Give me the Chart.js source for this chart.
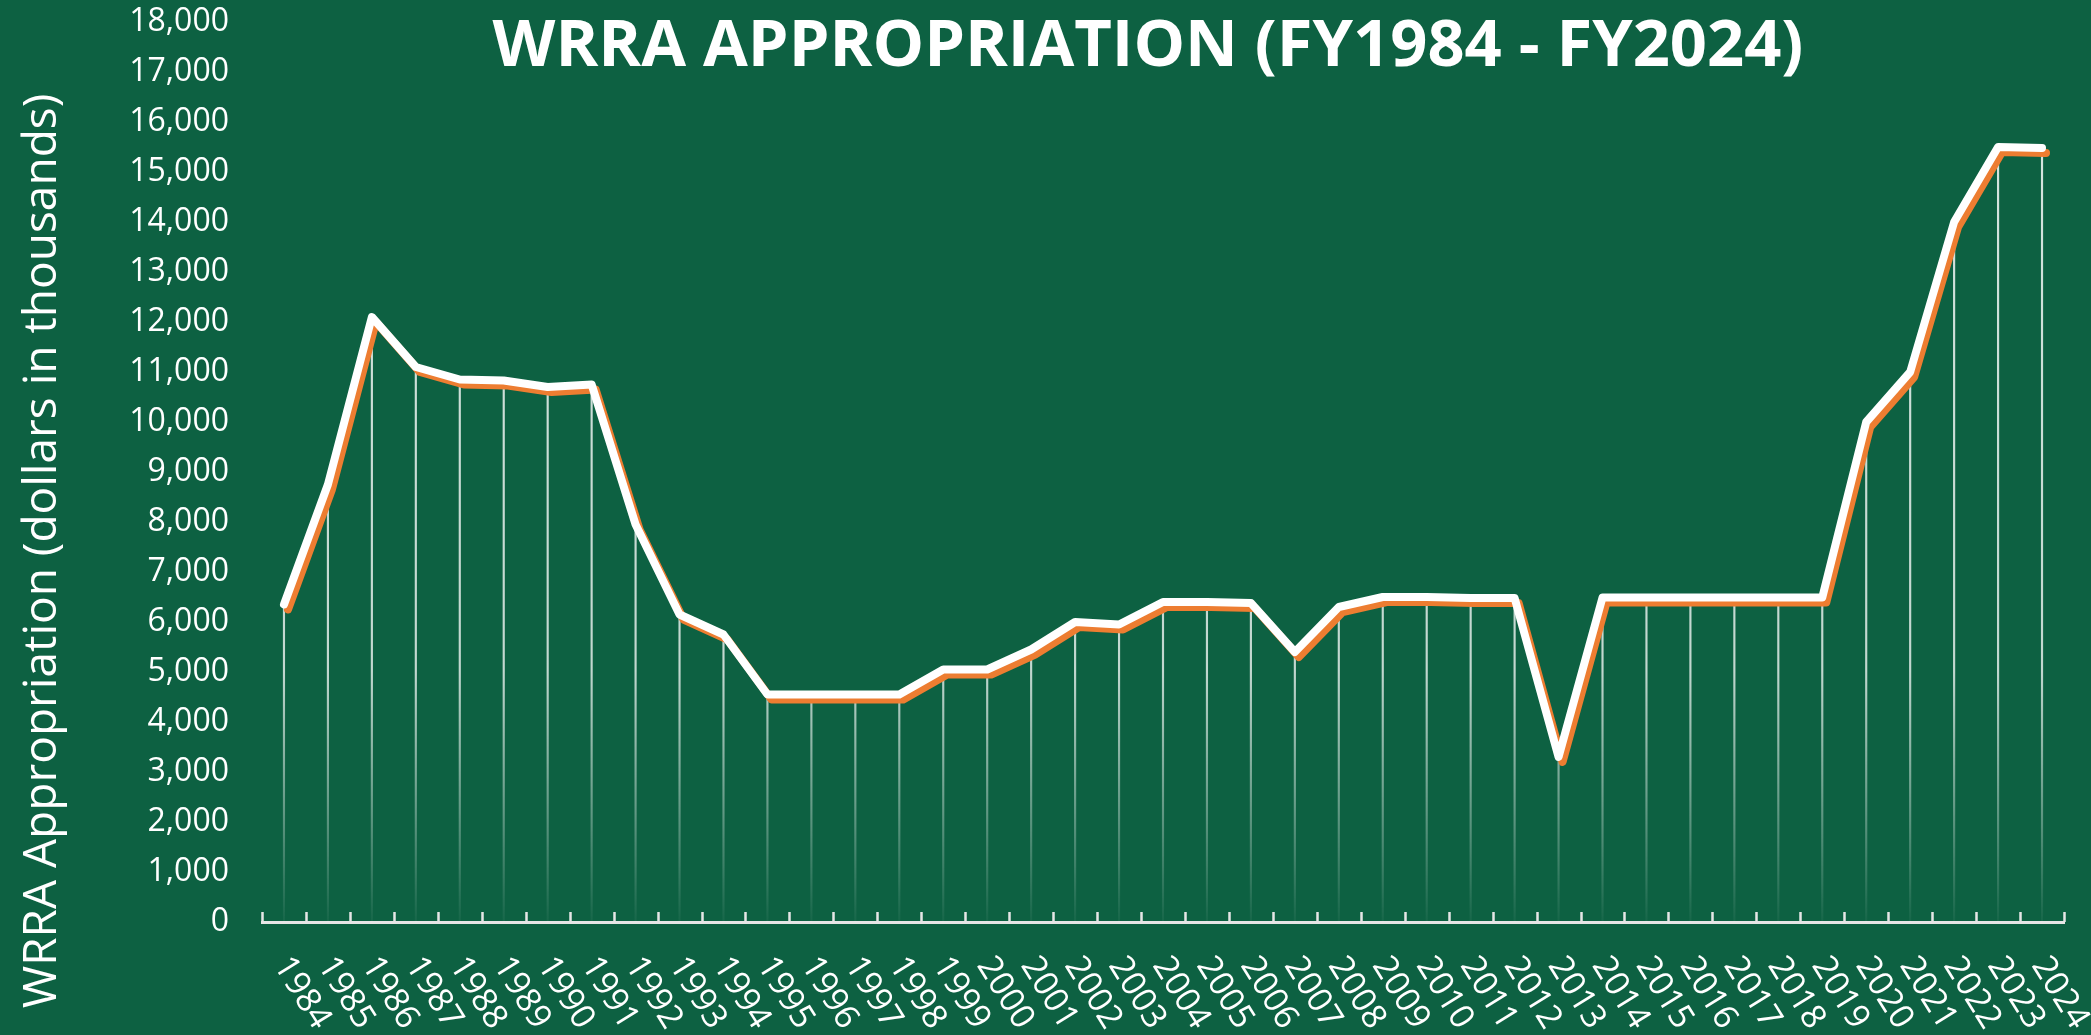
<!DOCTYPE html>
<html>
<head>
<meta charset="utf-8">
<title>WRRA Appropriation</title>
<script src="https://cdn.jsdelivr.net/npm/chart.js@4.4.1/dist/chart.umd.min.js"></script>
<style>
  html, body { margin: 0; padding: 0; background: #0d6142; }
  #wrap { width: 2091px; height: 1035px; }
</style>
</head>
<body>
<div id="wrap"><canvas id="wrraChart" width="2091" height="1035"></canvas></div>
<script>
// fiscal years on the x axis
const years = [
  '1984', '1985', '1986', '1987', '1988', '1989', '1990', '1991', '1992', '1993',
  '1994', '1995', '1996', '1997', '1998', '1999', '2000', '2001', '2002', '2003',
  '2004', '2005', '2006', '2007', '2008', '2009', '2010', '2011', '2012', '2013',
  '2014', '2015', '2016', '2017', '2018', '2019', '2020', '2021', '2022', '2023', '2024'
];

// appropriation, dollars in thousands
const appropriation = [
  6350, 8750, 12100, 11100, 10850, 10830, 10700, 10750, 7950, 6150,
  5750, 4550, 4550, 4550, 4550, 5050, 5050, 5450, 6000, 5950,
  6400, 6400, 6380, 5400, 6300, 6500, 6500, 6480, 6480, 3300,
  6490, 6490, 6490, 6490, 6490, 6490, 10000, 11000, 14000, 15500, 15480
];

const yMin = 0;
const yMax = 18000;
const yStep = 1000;

const chartTitle = 'WRRA APPROPRIATION (FY1984 - FY2024)';
const yAxisTitle = 'WRRA Appropriation (dollars in thousands)';

const textColor = '#ffffff';
const shadowOrange = '#ed7d31';

// orange offset shadow under the white line, tick marks, rotated year labels, titles
const decorations = {
  id: 'decorations',
  beforeDatasetDraw(chart, args) {
    if (args.meta.type !== 'line') return;
    const ctx = chart.ctx;
    ctx.save();
    ctx.shadowColor = shadowOrange;
    ctx.shadowOffsetX = 4;
    ctx.shadowOffsetY = 5;
    ctx.shadowBlur = 0;
  },
  afterDatasetDraw(chart, args) {
    if (args.meta.type !== 'line') return;
    chart.ctx.restore();
  },
  afterDraw(chart) {
    const ctx = chart.ctx;
    const x = chart.scales.x;
    const area = chart.chartArea;
    const n = years.length;
    const step = (x.right - x.left) / n;

    ctx.save();
    // tick marks between the categories, pointing up
    ctx.strokeStyle = '#e6e6e6';
    ctx.lineWidth = 2.5;
    ctx.beginPath();
    for (let i = 0; i <= n; i++) {
      const px = Math.round(x.left + i * step) + 0.5;
      ctx.moveTo(px, area.bottom);
      ctx.lineTo(px, area.bottom - 10);
    }
    ctx.stroke();

    // year labels, turned clockwise
    ctx.fillStyle = textColor;
    ctx.font = '34px "Open Sans"';
    ctx.textAlign = 'left';
    ctx.textBaseline = 'alphabetic';
    years.forEach((yr, i) => {
      const px = x.getPixelForValue(i);
      ctx.save();
      ctx.translate(px - 11, area.bottom + 43);
      ctx.rotate(58 * Math.PI / 180);
      ctx.fillText(yr, 0, 0);
      ctx.restore();
    });

    // chart title
    ctx.font = 'bold 65px "Open Sans"';
    ctx.textAlign = 'center';
    ctx.fillText(chartTitle, 1148, 66);

    // y axis title
    ctx.save();
    ctx.translate(56, 551);
    ctx.rotate(-Math.PI / 2);
    ctx.font = '46px "Open Sans"';
    ctx.textAlign = 'center';
    ctx.fillText(yAxisTitle, 0, 0);
    ctx.restore();

    ctx.restore();
  }
};

const data = {
  labels: years,
  datasets: [{
    type: 'line',
    label: 'WRRA Appropriation',
    data: appropriation,
    borderColor: '#ffffff',
    borderWidth: 8,
    borderCapStyle: 'round',
    borderJoinStyle: 'round',
    pointRadius: 0,
    tension: 0,
    order: 0
  }, {
    type: 'bar',
    label: 'drop lines',
    data: appropriation,
    barThickness: 1.5,
    backgroundColor: function (context) {
      const { ctx, chartArea } = context.chart;
      if (!chartArea) return 'rgba(255, 255, 255, 0.8)';
      const g = ctx.createLinearGradient(0, chartArea.top, 0, chartArea.bottom);
      g.addColorStop(0, 'rgba(255, 255, 255, 0.85)');
      g.addColorStop(0.72, 'rgba(255, 255, 255, 0.75)');
      g.addColorStop(1, 'rgba(255, 255, 255, 0.04)');
      return g;
    },
    borderWidth: 0,
    order: 1
  }]
};

const config = {
  data: data,
  options: {
    responsive: false,
    animation: false,
    layout: { padding: { top: 22, right: 27, left: 0, bottom: 0 } },
    scales: {
      x: {
        type: 'category',
        offset: true,
        grid: { display: false, drawTicks: false, tickLength: 0 },
        ticks: { display: false },
        border: { display: true, color: '#e6e6e6', width: 3 },
        afterFit(scale) { scale.height = 113; }
      },
      y: {
        min: yMin,
        max: yMax,
        grid: { display: false, drawTicks: false, tickLength: 0 },
        border: { display: false },
        ticks: {
          stepSize: yStep,
          color: textColor,
          padding: 33,
          font: { family: 'Open Sans', size: 32 },
          callback: (v) => v.toLocaleString('en-US')
        },
        afterFit(scale) {
          scale.width = 262;
          scale.paddingTop = 0;
          scale.paddingBottom = 0;
        }
      }
    },
    plugins: {
      legend: { display: false },
      tooltip: { enabled: false }
    }
  },
  plugins: [decorations]
};

new Chart(document.getElementById('wrraChart'), config);
</script>
</body>
</html>
